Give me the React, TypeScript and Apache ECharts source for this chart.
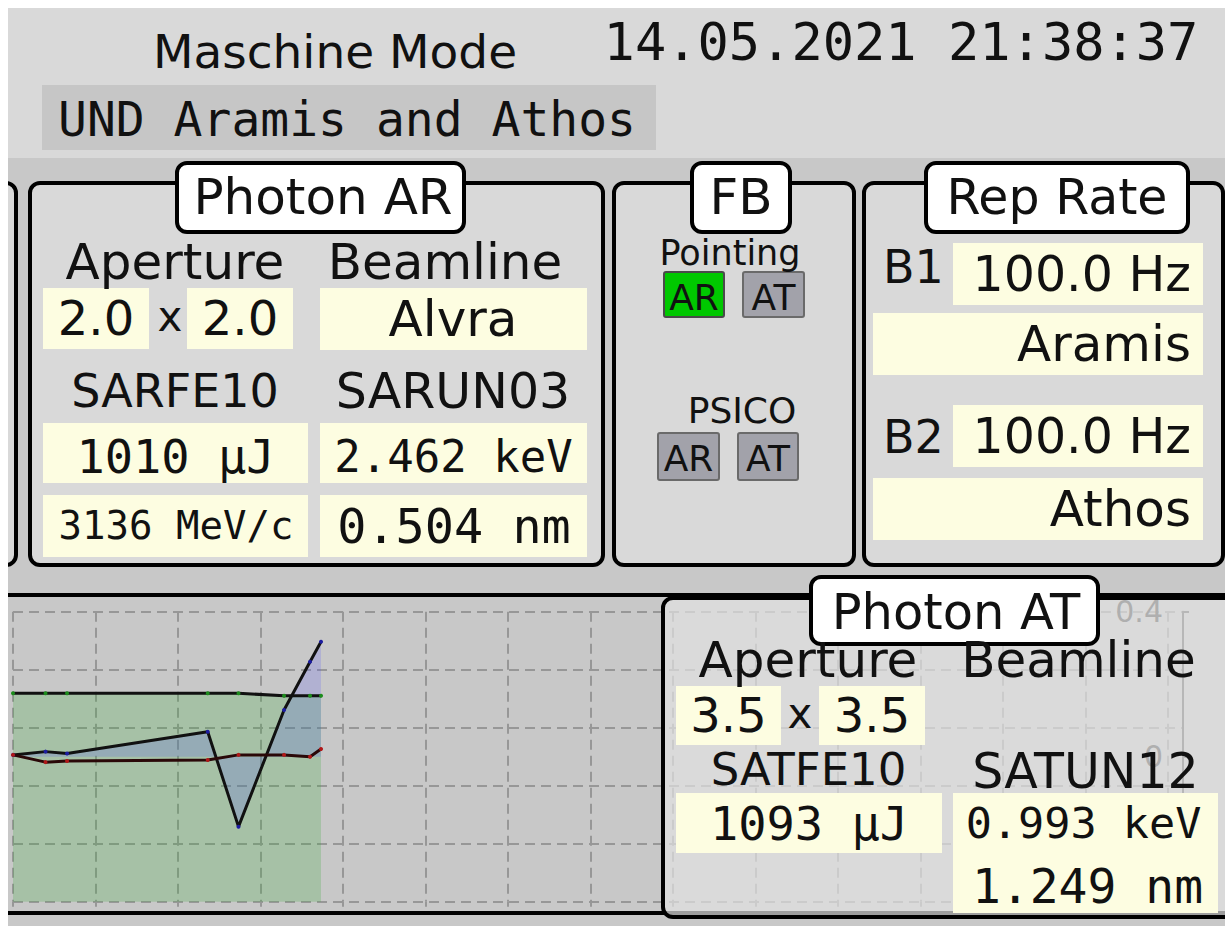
import React, { useEffect, useRef } from 'react';
import * as echarts from 'echarts';

// ---- data ----
const timeSeconds = [0, 3.94, 6.55, 23.6, 27.33, 32.85, 36.0, 37.33];
const greenTrace = [0.175, 0.175, 0.175, 0.175, 0.175, 0.168, 0.168, 0.168];
const blueTrace = [0.005, 0.014, 0.009, 0.069, -0.193, 0.129, 0.262, 0.317];
const redTrace = [0.005, -0.015, -0.012, -0.009, 0.005, 0.005, 0.0, 0.021];

const headerTitle = 'Maschine Mode';
const timestamp = '14.05.2021 21:38:37';
const machineMode = 'UND Aramis and Athos';

const arLabels = ['Aperture', 'Beamline', 'SARFE10', 'SARUN03'];
const arValues = ['2.0', '2.0', 'Alvra', '1010 μJ', '2.462 keV', '3136 MeV/c', '0.504 nm'];
const atLabels = ['Aperture', 'Beamline', 'SATFE10', 'SATUN12'];
const atValues = ['3.5', '3.5', '1093 μJ', '0.993 keV', '1.249 nm'];
const repRates = ['100.0 Hz', '100.0 Hz'];
const repBeamlines = ['Aramis', 'Athos'];

const SANS = '"DejaVu Sans", sans-serif';
const MONO = '"DejaVu Sans Mono", monospace';
const YELLOW = '#fdfde1';

function txt(text: string, x: number, y: number, size: number, opt: any = {}) {
  const align = opt.align || 'center';
  return {
    type: 'text',
    x,
    y,
    z: opt.z ?? 5,
    silent: true,
    style: {
      text,
      fill: opt.color || '#111',
      font: `${size}px ${opt.mono ? MONO : SANS}`,
      align,
      textAlign: align,
      verticalAlign: 'middle',
      textVerticalAlign: 'middle',
    },
  };
}

function box(x: number, y: number, w: number, h: number, fill: string, opt: any = {}) {
  return {
    type: 'rect',
    z: opt.z ?? 3,
    silent: true,
    shape: { x, y, width: w, height: h, r: opt.r ?? 0 },
    style: { fill, stroke: opt.stroke || null, lineWidth: opt.lw ?? 0 },
  };
}

function panel(x: number, y: number, w: number, h: number, fill = '#d9d9d9', z = 1) {
  return box(x, y, w, h, fill, { stroke: '#000', lw: 4, r: 10, z });
}

export default function App() {
  const ref = useRef<HTMLDivElement>(null);
  useEffect(() => {
    const chart = echarts.init(ref.current!, undefined, { renderer: 'svg' });
    const zip = (ys: number[]) => timeSeconds.map((t, i) => [t, ys[i]]);
    const dash = { color: '#979797', type: [10, 6], width: 2 };

    const graphic: any[] = [
      // header
      box(0, 8, 1225, 150, '#d9d9d9', { z: -20 }),
      txt(headerTitle, 335, 51, 47),
      txt(timestamp, 901, 42, 52, { mono: true }),
      box(42, 85, 614, 65, '#c6c6c6', { z: -15 }),
      txt(machineMode, 58, 119, 48, { mono: true, align: 'left' }),

      // left partial panel
      panel(-60, 183, 76, 382),

      // Photon AR
      panel(30, 183, 573, 382),
      box(177, 163, 287, 69, '#fff', { stroke: '#000', lw: 4, r: 10, z: 4 }),
      txt('Photon AR', 323, 197, 50),
      txt(arLabels[0], 175, 262, 50),
      txt(arLabels[1], 445, 262, 50),
      box(43, 288, 106, 61, YELLOW),
      txt(arValues[0], 96, 318, 48),
      txt('x', 170, 316, 42),
      box(187, 288, 106, 61, YELLOW),
      txt(arValues[1], 240, 318, 48),
      box(320, 288, 267, 62, YELLOW),
      txt(arValues[2], 453, 319, 50),
      txt(arLabels[2], 175, 391, 46),
      txt(arLabels[3], 453, 391, 49),
      box(43, 423, 265, 60, YELLOW),
      txt(arValues[3], 175.5, 456, 47, { mono: true }),
      box(320, 423, 267, 60, YELLOW),
      txt(arValues[4], 453.5, 456, 44, { mono: true }),
      box(43, 495, 265, 62, YELLOW),
      txt(arValues[5], 176, 525, 39, { mono: true }),
      box(320, 495, 267, 62, YELLOW),
      txt(arValues[6], 454, 526, 48.5, { mono: true }),

      // FB
      panel(614, 183, 240, 382),
      box(692, 163, 98, 69, '#fff', { stroke: '#000', lw: 4, r: 10, z: 4 }),
      txt('FB', 741, 197, 50),
      txt('Pointing', 730, 253, 35),
      box(664, 272, 60, 45, '#00c800', { stroke: '#4a4a4a', lw: 2, r: 2 }),
      txt('AR', 694, 297, 36),
      box(743, 272, 61, 45, '#a2a2aa', { stroke: '#6a6a6a', lw: 2, r: 2 }),
      txt('AT', 773.5, 297, 36),
      txt('PSICO', 742, 410, 36),
      box(658, 433, 61, 47, '#a2a2aa', { stroke: '#6a6a6a', lw: 2, r: 2 }),
      txt('AR', 688.5, 458, 36),
      box(738, 433, 60, 47, '#a2a2aa', { stroke: '#6a6a6a', lw: 2, r: 2 }),
      txt('AT', 768, 458, 36),

      // Rep Rate
      panel(864, 183, 359, 382),
      box(926, 163, 262, 69, '#fff', { stroke: '#000', lw: 4, r: 10, z: 4 }),
      txt('Rep Rate', 1057, 197, 49),
      txt('B1', 883, 267, 46, { align: 'left' }),
      box(953, 243, 250, 62, YELLOW),
      txt(repRates[0], 1191, 274, 49, { align: 'right' }),
      box(873, 313, 330, 62, YELLOW),
      txt(repBeamlines[0], 1191, 344, 50, { align: 'right' }),
      txt('B2', 883, 436.5, 46, { align: 'left' }),
      box(953, 405, 250, 62, YELLOW),
      txt(repRates[1], 1191, 436.5, 49, { align: 'right' }),
      box(873, 478, 330, 62, YELLOW),
      txt(repBeamlines[1], 1191, 509, 50, { align: 'right' }),

      // chart frame
      box(-20, 595, 1300, 318, '#c8c8c8', { stroke: '#000', lw: 4, z: -10 }),

      // Photon AT (semi transparent over chart)
      panel(663, 598, 700, 319, 'rgba(225,225,225,0.7)', 50),
      box(811, 577, 287, 67, '#fff', { stroke: '#000', lw: 4, r: 10, z: 53 }),
      txt('Photon AT', 956, 612, 49.5, { z: 54 }),
      txt(atLabels[0], 808, 660, 50, { z: 54 }),
      txt(atLabels[1], 1078.5, 660, 50, { z: 54 }),
      box(676, 686, 105, 59, YELLOW, { z: 51 }),
      txt(atValues[0], 728.5, 715, 48, { z: 54 }),
      txt('x', 800, 713, 42, { z: 54 }),
      box(819, 686, 106, 59, YELLOW, { z: 51 }),
      txt(atValues[1], 872, 715, 48, { z: 54 }),
      txt(atLabels[2], 808.5, 769, 45, { z: 54 }),
      txt(atLabels[3], 1085.5, 771, 49, { z: 54 }),
      box(676, 793, 266, 60, YELLOW, { z: 51 }),
      txt(atValues[2], 809, 823.5, 47, { mono: true, z: 54 }),
      box(953, 793, 265, 120, YELLOW, { z: 51 }),
      txt(atValues[3], 1083.5, 822.5, 43.5, { mono: true, z: 54 }),
      txt(atValues[4], 1087.5, 885.5, 48, { mono: true, z: 54 }),

      // page margins
      box(0, 0, 1225, 8, '#fff', { z: 200 }),
      box(0, 0, 8, 926, '#fff', { z: 200 }),
    ];

    chart.setOption({
      animation: false,
      backgroundColor: '#c8c8c8',
      grid: { left: 13, right: 42, top: 611.7, bottom: 24.3, containLabel: false },
      xAxis: {
        type: 'value',
        min: 0,
        max: 141.8,
        interval: 10,
        axisLine: { show: false },
        axisTick: { show: true, length: 5, lineStyle: { color: '#979797', width: 2 } },
        axisLabel: { show: false },
        splitLine: { show: true, lineStyle: dash },
      },
      yAxis: [
        {
          type: 'value',
          position: 'left',
          min: 0,
          max: 5,
          interval: 1,
          axisLine: { show: false },
          axisTick: { show: false },
          axisLabel: { show: false },
          splitLine: { show: true, lineStyle: dash },
        },
        {
          type: 'value',
          position: 'right',
          min: -0.4,
          max: 0.4,
          interval: 0.4,
          axisLine: { show: true, lineStyle: { color: '#555', width: 2 } },
          axisTick: { show: true, length: 6, lineStyle: { color: '#555', width: 2 } },
          axisLabel: {
            inside: true,
            margin: 20,
            color: '#3a3a3a',
            fontSize: 30,
            fontFamily: 'DejaVu Sans',
            formatter: (v: number) => (v < 0 ? '' : String(v)),
          },
          splitLine: { show: false },
        },
      ],
      series: [
        {
          type: 'line',
          yAxisIndex: 1,
          data: zip(greenTrace),
          symbol: 'circle',
          symbolSize: 4,
          itemStyle: { color: '#1c8c1c' },
          lineStyle: { color: '#111', width: 3 },
          areaStyle: { color: 'rgba(50,170,50,0.32)', origin: 'start' },
        },
        {
          type: 'line',
          yAxisIndex: 1,
          data: zip(blueTrace),
          symbol: 'circle',
          symbolSize: 4,
          itemStyle: { color: '#1c1ca0' },
          lineStyle: { color: '#111', width: 3 },
          areaStyle: { color: 'rgba(80,80,255,0.27)', origin: 'auto' },
        },
        {
          type: 'line',
          yAxisIndex: 1,
          data: zip(redTrace),
          symbol: 'circle',
          symbolSize: 4,
          itemStyle: { color: '#b01818' },
          lineStyle: { color: '#2a0808', width: 3 },
        },
      ],
      graphic,
    });
    return () => chart.dispose();
  }, []);
  return (
    <div
      ref={ref}
      style={{ position: 'fixed', left: 0, top: 0, width: 1225, height: 926 }}
    />
  );
}
